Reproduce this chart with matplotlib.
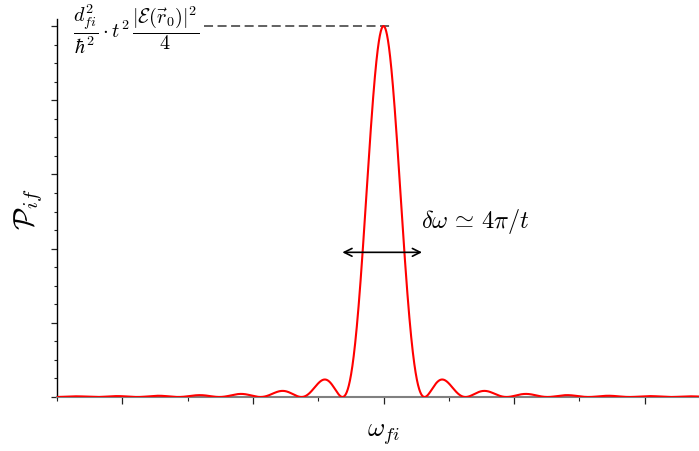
import matplotlib
matplotlib.use("Agg")
import matplotlib.pyplot as plt
from matplotlib.ticker import MultipleLocator, NullFormatter
import numpy as np

plt.rcParams['mathtext.fontset'] = 'cm'

# line shape P_if(w) = peak * sin^2(w t / 2) / (w t / 2)^2
peak = 1.0          # top of the central lobe
t = 1.0             # interaction time (zeros at 2*pi*n / t)
w_range = (-50, 50)

w = np.linspace(w_range[0], w_range[1], 4000)
x = w * t / 2
P = peak * np.sinc(x / np.pi) ** 2

fig = plt.figure(figsize=(6.99, 4.52), dpi=100)
ax = fig.add_axes([57 / 699, 54 / 452, 653 / 699, 378 / 452])

ax.plot(w, P, color='red', lw=1.5, zorder=3)
ax.set_xlim(*w_range)
ax.set_ylim(0, 1.019)

# spines and ticks
ax.spines['top'].set_visible(False)
ax.spines['right'].set_visible(False)
ax.spines['left'].set_color('black')
ax.spines['left'].set_linewidth(1.0)
ax.spines['bottom'].set_color('#808080')
ax.spines['bottom'].set_linewidth(1.5)

ax.xaxis.set_major_locator(MultipleLocator(20))
ax.xaxis.set_minor_locator(MultipleLocator(10))
ax.yaxis.set_major_locator(MultipleLocator(0.2))
ax.yaxis.set_minor_locator(MultipleLocator(0.05))
for axis in (ax.xaxis, ax.yaxis):
    axis.set_major_formatter(NullFormatter())
    axis.set_minor_formatter(NullFormatter())
ax.tick_params(which='major', direction='out', length=4.5, width=0.9, color='#222222')
ax.tick_params(which='minor', direction='out', length=2.2, width=0.8, color='#222222')
ax.tick_params(axis='x', which='major', length=5)
ax.tick_params(axis='x', which='minor', length=3)

ax.set_xlabel(r'$\omega_{fi}$', fontsize=19)
ax.set_ylabel(r'$\mathcal{P}_{if}$', fontsize=21)
ax.xaxis.set_label_coords(0.5, -0.062)
ax.yaxis.set_label_coords(-0.018, 0.5)

# peak value annotation
ax.plot([-27.5, 1.5], [peak, peak], ls=(0, (5, 2.5)), color='#555555', lw=1.3, zorder=2)
ax.text(-47.5, peak - 0.005,
        r'$\dfrac{d_{fi}^2}{\hbar^2}\cdot t^2\,\dfrac{|\mathcal{E}(\vec{r}_0)|^2}{4}$',
        fontsize=14.5, ha='left', va='center')

# width arrow
ax.annotate('', xy=(-6.3, 0.39), xytext=(5.9, 0.39),
            arrowprops=dict(arrowstyle='<->', color='black', lw=1.2,
                            shrinkA=0, shrinkB=0, mutation_scale=14))
ax.text(5.8, 0.475, r'$\delta\omega\,\simeq\,4\pi/t$', fontsize=17.5, ha='left', va='center')

fig.savefig('out.png', dpi=100)
